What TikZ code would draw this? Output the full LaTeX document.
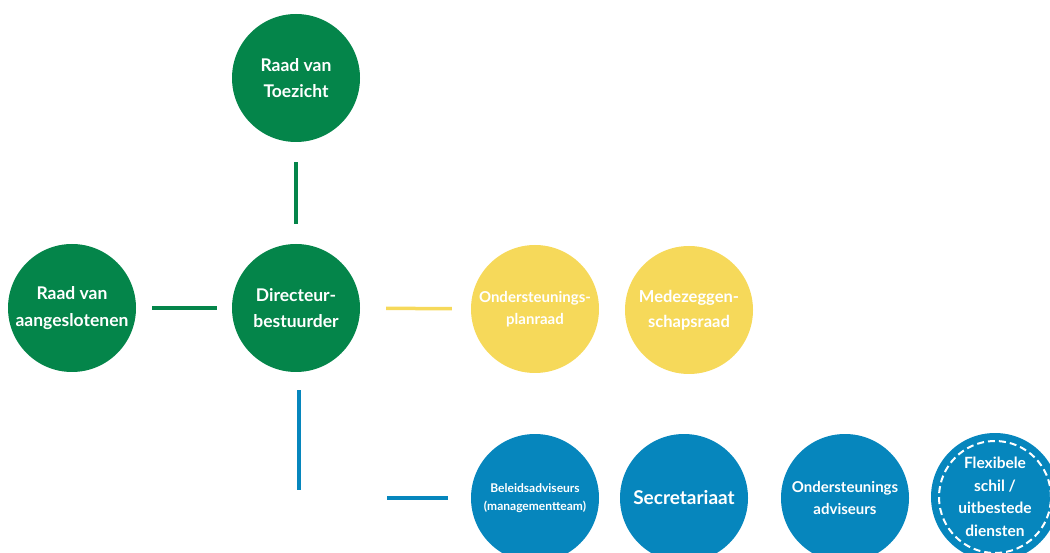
\documentclass[tikz,border=0pt]{standalone}
\usepackage{fontspec}
\setmainfont{Lato}
\usepackage{tikz}
\usetikzlibrary{positioning}
\usepackage{xcolor}
\definecolor{orggreen}{RGB}{4,133,74}
\definecolor{orgyellow}{RGB}{246,217,90}
\definecolor{orgblue}{RGB}{6,134,189}
\newcommand{\fgroot}{\fontsize{17.5}{26.5}\selectfont}
\newcommand{\fmidden}{\fontsize{15}{22}\selectfont}
\newcommand{\fklein}{\fontsize{12}{18}\selectfont}
\tikzstyle{orgaan} = [circle, minimum size=128pt, inner sep=0pt, text=white, align=center, font=\bfseries\fgroot]
\tikzstyle{lijn} = [line width=4pt]

\begin{document}
\begin{tikzpicture}[x=1pt,y=-1pt]
\useasboundingbox (0,0) rectangle (1050,553);
\clip (0,0) rectangle (1050,553);
% bestuur
\node[orgaan, fill=orggreen] (rvt) at (296,78) {Raad van\\Toezicht};
\node[orgaan, fill=orggreen] (dir) at (296,308) {Directeur-\\bestuurder};
\node[orgaan, fill=orggreen] (rva) at (72,308) {Raad van\\aangeslotenen};
% raden
\node[orgaan, fill=orgyellow, font=\bfseries\fmidden] (opr) at (535,309) {Ondersteunings-\\planraad};
\node[orgaan, fill=orgyellow, font=\bfseries\fontsize{16.5}{25}\selectfont] (mzr) at (689,310) {Medezeggen-\\schapsraad};
% bureau
\coordinate (hoek) at (299,498);
\node[orgaan, fill=orgblue, font=\bfseries\fklein] (bel) at (535,498) {Beleidsadviseurs\\(managementteam)};
\node[orgaan, fill=orgblue, font=\bfseries\fontsize{19}{26}\selectfont] (sec) at (684,498) {Secretariaat};
\node[orgaan, fill=orgblue, font=\bfseries\fmidden] (oa) at (845,498) {Ondersteunings\\adviseurs};
\node[orgaan, fill=orgblue, font=\bfseries\fontsize{15.5}{22.5}\selectfont] (flex) at (995,497) {Flexibele\\schil /\\uitbestede\\diensten};
\draw[white, line width=2pt, dash pattern=on 7pt off 4pt] (flex.center) circle[radius=56pt];
% lijnen
\draw[lijn, orggreen, shorten <=20pt, shorten >=20pt] (rvt) -- (dir);
\draw[lijn, orggreen, shorten <=16pt, shorten >=15pt] (rva) -- (dir);
\draw[line width=3.5pt, orgyellow, shorten <=26pt, shorten >=19pt] (dir) -- (opr);
\draw[lijn, orgblue, shorten <=18pt, shorten >=8pt] (dir.south -| hoek) -- (hoek);
\draw[lijn, orgblue, shorten <=88pt, shorten >=23pt] (hoek) -- (bel);
\end{tikzpicture}
\end{document}
